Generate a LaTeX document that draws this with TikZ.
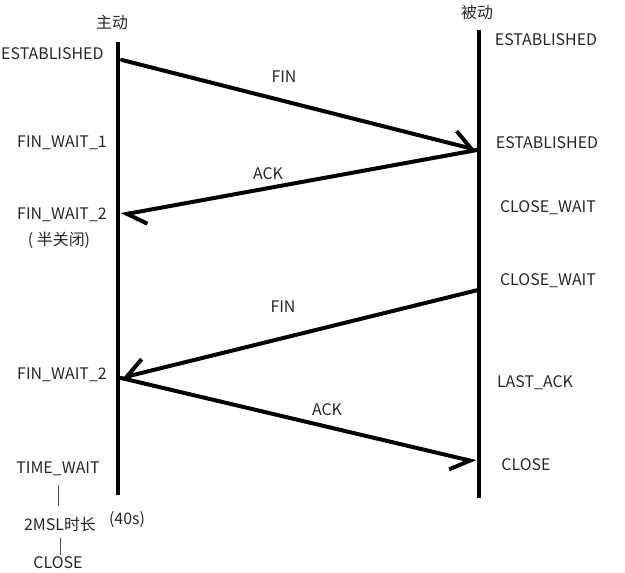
\documentclass[tikz,border=0pt]{standalone}
\usepackage{fontspec}
\setmainfont{Noto Sans CJK SC}
\usetikzlibrary{arrows.meta}
\begin{document}
\begin{tikzpicture}[x=0.03cm,y=-0.03cm]
        \tikzstyle{every node} = [font=\fontsize{13.6}{15}\selectfont, text=black!85, inner sep=0pt]
        \tikzstyle{timeline} = [line width=3.6pt]
        \tikzstyle{msg} = [line width=3.4pt, line cap=round]
        \tikzstyle{barbL} = [-{Straight Barb[left,length=5.5mm,width=8mm]}]
        \tikzstyle{barbR} = [-{Straight Barb[right,length=5.5mm,width=8mm]}]
        \useasboundingbox (0,0) rectangle (625,573);

            % two time lines
            \coordinate (a0) at (118,42);
            \coordinate (a1) at (118,495);
            \coordinate (b0) at (479,30);
            \coordinate (b1) at (479,498);
            \draw[timeline] (a0) -- (a1);
            \draw[timeline] (b0) -- (b1);
            \node (active) at (112,22) {主动};
            \node (passive) at (477,12) {被动};

            % states of the active side
            \node[anchor=west] (a_est) at (1,54) {ESTABLISHED};
            \node (a_fw1) at (62,143) {FIN\_WAIT\_1};
            \node (a_fw2) at (62,215) {FIN\_WAIT\_2};
            \node (a_half) at (59,240) {( 半关闭)};
            \node (a_fw2b) at (62,375) {FIN\_WAIT\_2};
            \node (a_tw) at (58,469) {TIME\_WAIT};
            \node (a_msl) at (60,524) {2MSL时长};
            \node (a_40s) at (127,520) {(40s)};
            \node (a_close) at (58,563) {CLOSE};
            \draw[black!70] (a_tw.south) ++(0,9) -- ++(0,21);
            \draw[black!70] (a_msl.south) ++(0,7) -- ++(0,17);

            % states of the passive side
            \node (b_est) at (546,40) {ESTABLISHED};
            \node (b_est2) at (547,143) {ESTABLISHED};
            \node (b_cw) at (548,208) {CLOSE\_WAIT};
            \node (b_cw2) at (548,281) {CLOSE\_WAIT};
            \node (b_la) at (535,383) {LAST\_ACK};
            \node (b_close) at (526,465) {CLOSE};

            % messages
            \coordinate (s1) at (122,60);
            \coordinate (r1) at (477,150);
            \coordinate (r2) at (121,215);
            \coordinate (s3) at (478,290);
            \coordinate (r3) at (121,378);
            \coordinate (r4) at (476,462);
            \draw[msg,barbL] (s1) -- (r1);
            \draw[msg,barbL] (r1) -- (r2);
            \draw[msg,barbR] (s3) -- (r3);
            \draw[msg,barbR] (r3) -- (r4);
            \node (fin1) at (284,77) {FIN};
            \node (ack1) at (268,174) {ACK};
            \node (fin2) at (283,307) {FIN};
            \node (ack2) at (327,410) {ACK};
\end{tikzpicture}
\end{document}
